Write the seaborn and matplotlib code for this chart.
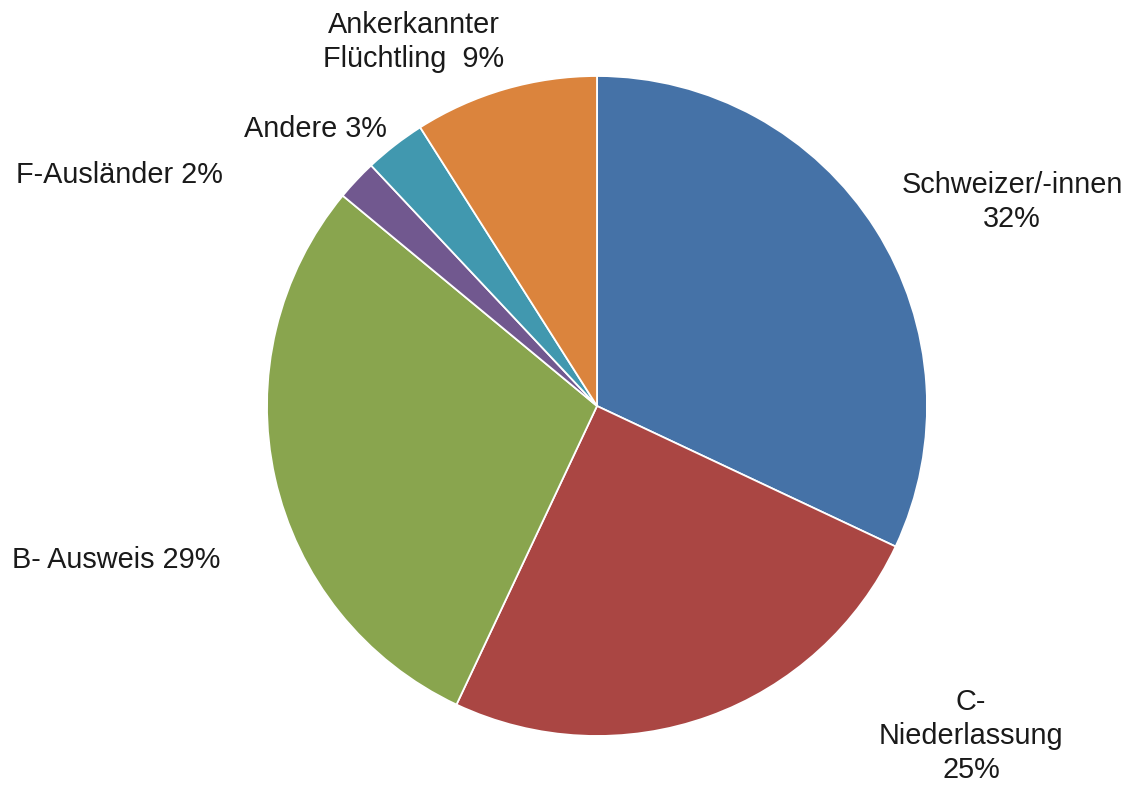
import matplotlib
matplotlib.use("Agg")
import matplotlib.pyplot as plt
import seaborn as sns

# Aufenthaltsstatus – Anteile in Prozent
categories = [
    "Schweizer/-innen",
    "C-\nNiederlassung",
    "B- Ausweis",
    "F-Ausländer",
    "Andere",
    "Ankerkannter\nFlüchtling ",
]
shares = [32, 25, 29, 2, 3, 9]
slice_colors = ["#4572A7", "#AA4643", "#89A54E", "#71588F", "#4198AF", "#DB843D"]

# label text: name and percentage, either on a new line or on the same line
label_breaks = ["\n", "\n", " ", " ", " ", " "]

sns.set_theme(style="white")
plt.rcParams["font.family"] = ["Liberation Sans", "DejaVu Sans"]

W, H = 1145, 787
fig = plt.figure(figsize=(W / 100, H / 100), dpi=100)
ax = fig.add_axes([0, 0, 1, 1])

palette = sns.color_palette(slice_colors)
ax.pie(
    shares,
    colors=palette,
    startangle=90,
    counterclock=False,
    radius=1.0,
    wedgeprops=dict(edgecolor="white", linewidth=1.3),
)

# pie centre at (597, 406) px with a radius of 330 px
cx, cy, r = 597, 406, 330
ax.set_xlim(-cx / r, (W - cx) / r)
ax.set_ylim(-(H - cy) / r, cy / r)
ax.set_aspect("auto")
ax.axis("off")

# label anchors (px from top-left): centre x, last-line baseline y
label_pos = [
    (1012, 227),
    (971, 778),
    (116, 568),
    (119, 183),
    (315, 137),
    (414, 67),
]

for name, val, brk, (px, py) in zip(categories, shares, label_breaks, label_pos):
    ax.text(
        px / W, 1 - py / H, f"{name}{brk}{val}%",
        transform=fig.transFigure,
        ha="center", va="baseline", multialignment="center",
        fontsize=20.8, color="#1a1a1a", linespacing=1.28,
    )

fig.savefig("out.png", dpi=100, facecolor="white")
